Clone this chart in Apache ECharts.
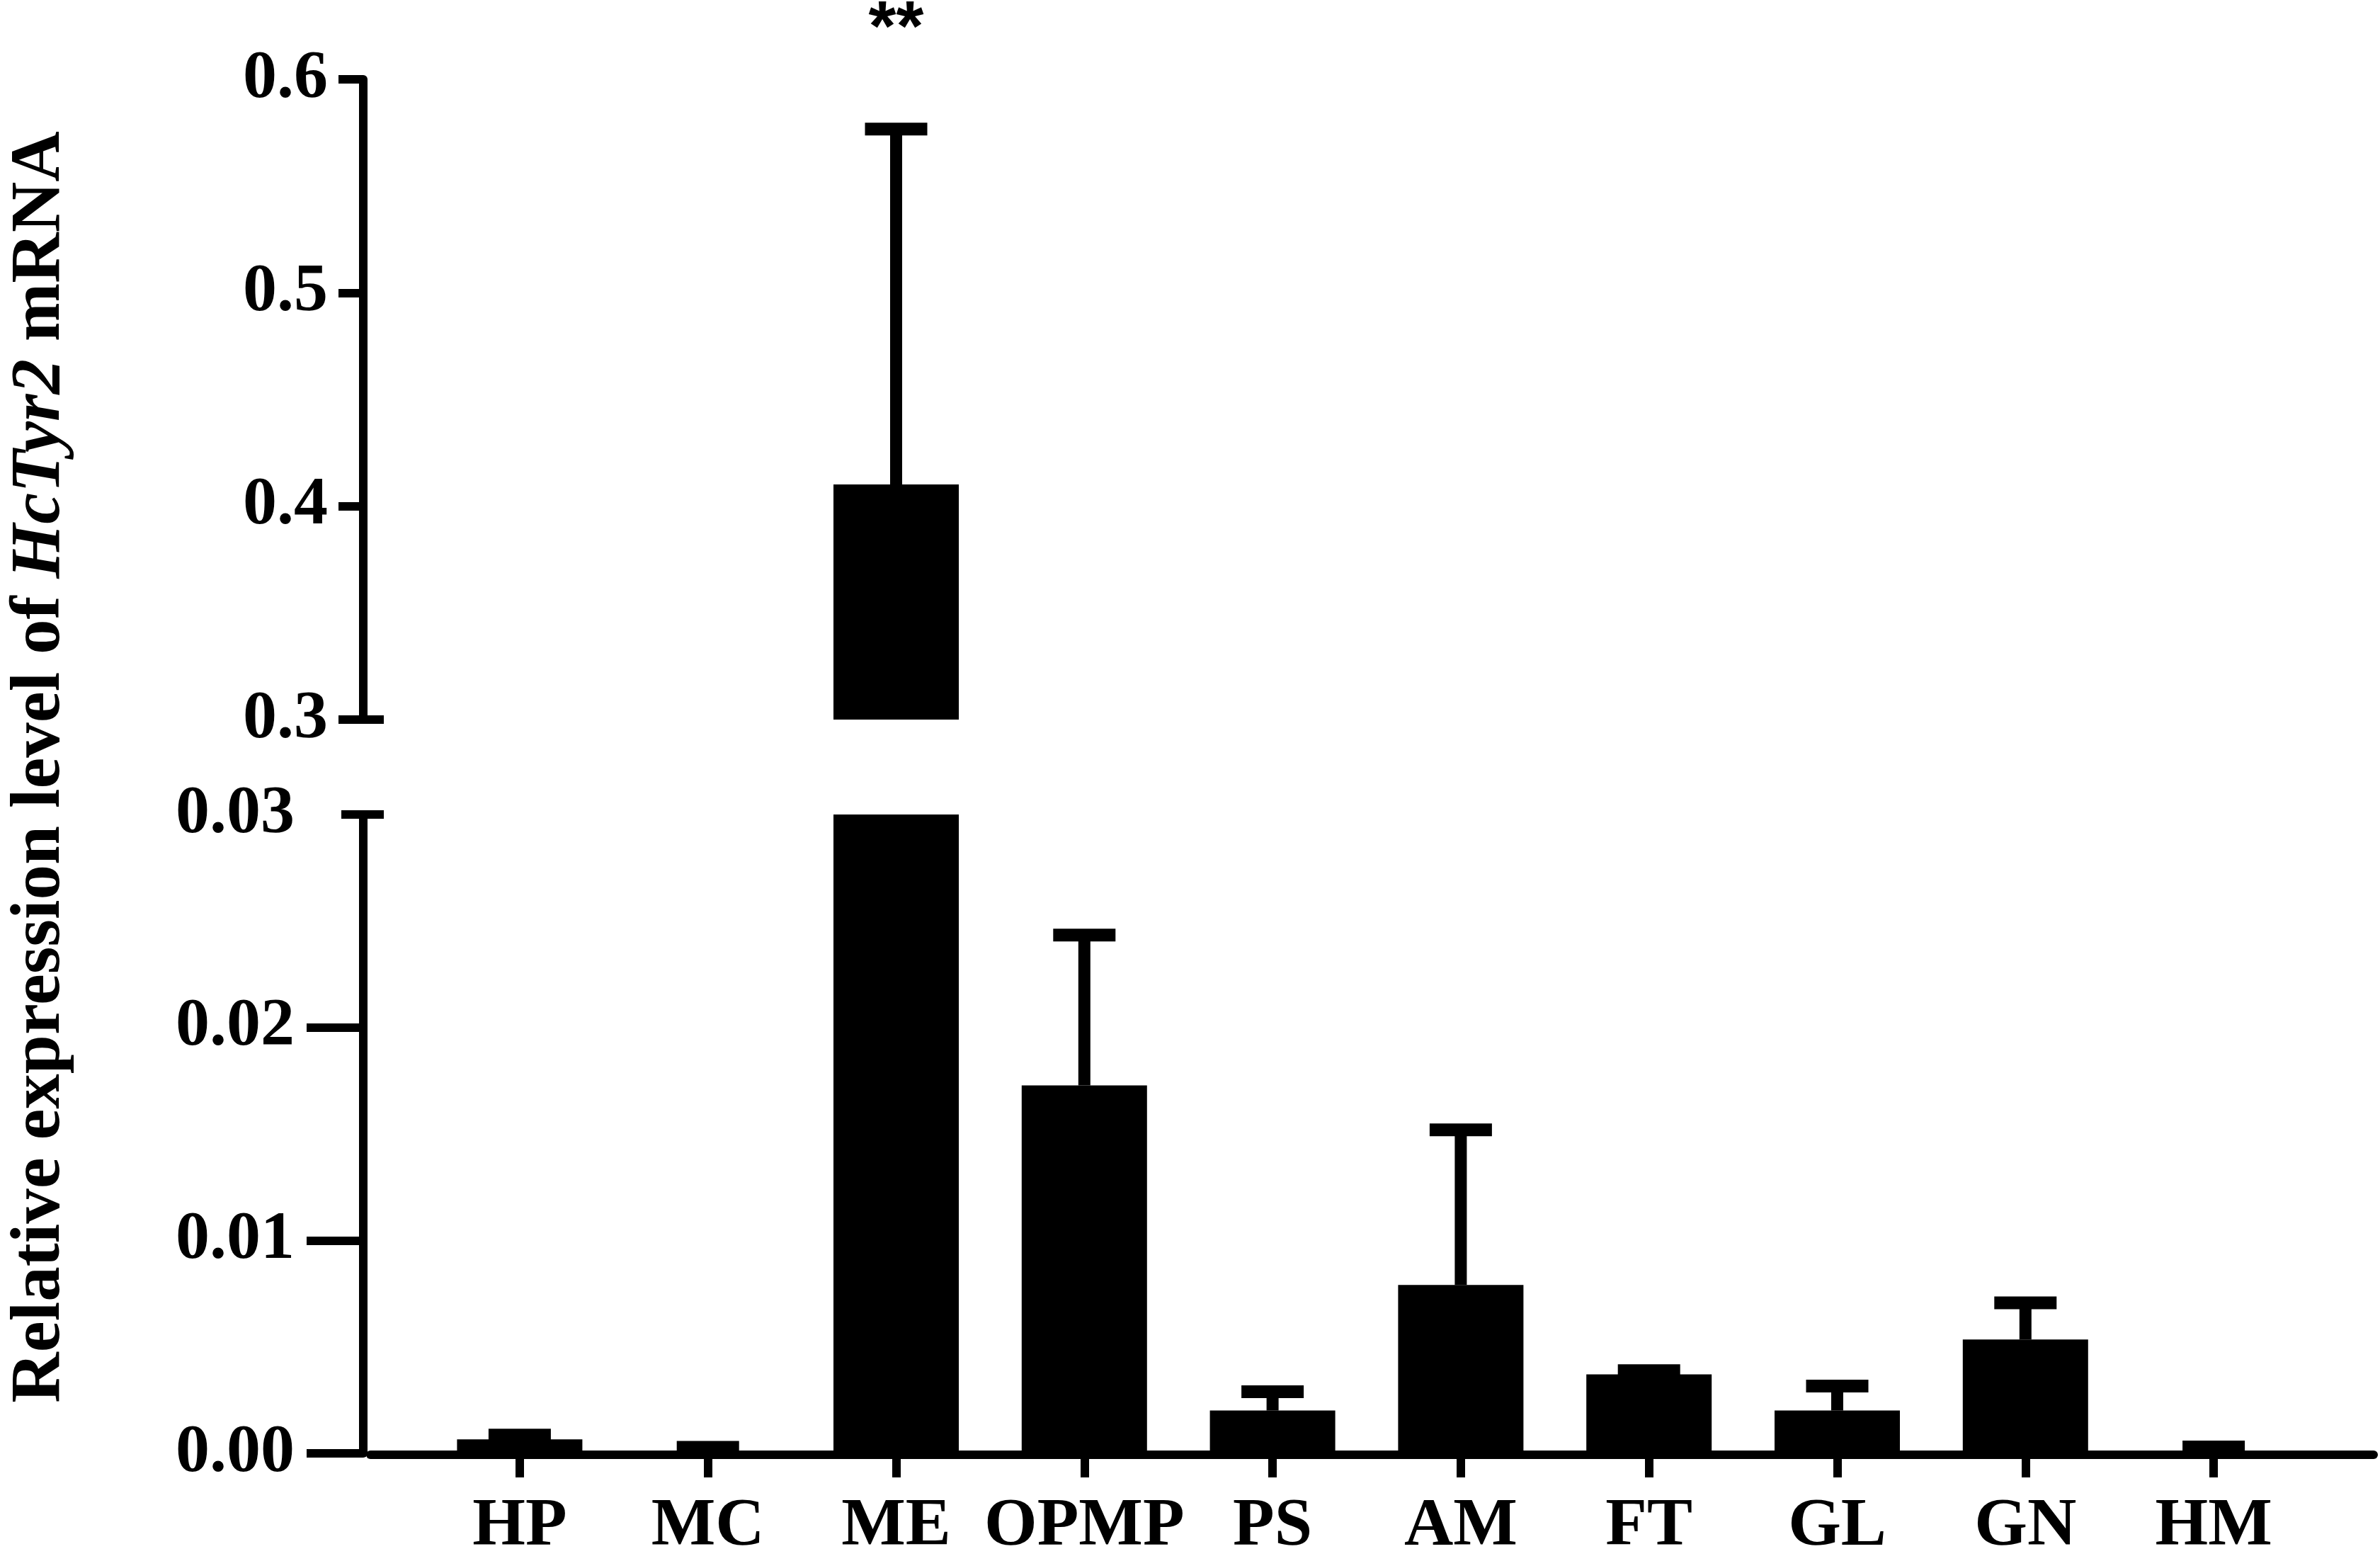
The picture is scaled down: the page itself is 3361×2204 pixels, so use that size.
<!DOCTYPE html>
<html><head><meta charset="utf-8">
<script src="https://cdn.jsdelivr.net/npm/echarts@6/dist/echarts.min.js"></script>
<style>html,body{margin:0;padding:0;background:#fff}#c{width:3361px;height:2204px}</style>
</head><body><div id="c"></div>
<script>
// ---- data ----
const categories = ['HP', 'MC', 'ME', 'OPMP', 'PS', 'AM', 'FT', 'GL', 'GN', 'HM'];
const meanValues = [0.00066, 0.00012, 0.4102, 0.01728, 0.00201, 0.00791, 0.00371, 0.00201, 0.00535, 0.0001];
const sdValues   = [0.0002, 0.00016, 0.1665, 0.00706, 0.00088, 0.00728, 0.00017, 0.00115, 0.00172, 0.0002];
const significance = ['', '', '**', '', '', '', '', '', '', ''];
const lowerTicks = [0, 0.01, 0.02, 0.03];
const upperTicks = [0.3, 0.4, 0.5, 0.6];
const titleParts = ['Relative expression level of ', 'HcTyr2', ' mRNA'];

// ---- styling ----
const SERIF = '"Liberation Serif", "Times New Roman", serif';
const BLACK = '#000';
const labelStyle = { fontFamily: SERIF, fontWeight: 'bold', fontSize: 96, color: BLACK };

const chart = echarts.init(document.getElementById('c'), null, { renderer: 'canvas' });

const errData = meanValues.map((m, i) => [i, m, sdValues[i], significance[i]]);

function renderErr(params, api) {
  const i = api.value(0), m = api.value(1), s = api.value(2);
  const sig = errData[params.dataIndex][3];
  const cs = params.coordSys;
  const yMin = cs.y, yMax = cs.y + cs.height;
  const base = api.coord([i, m]);
  const top = api.coord([i, m + s]);
  const lw = 17, capW = 88, capH = 18;
  const children = [];
  const y1 = Math.max(top[1], yMin), y2 = Math.min(base[1], yMax);
  if (y2 > y1) {
    children.push({ type: 'rect', shape: { x: top[0] - lw / 2, y: y1, width: lw, height: y2 - y1 }, style: { fill: BLACK } });
  }
  if (top[1] >= yMin - 2 && top[1] <= yMax) {
    children.push({ type: 'rect', shape: { x: top[0] - capW / 2, y: top[1] - capH / 2, width: capW, height: capH }, style: { fill: BLACK } });
    if (sig) {
      children.push({ type: 'text', style: { text: sig, x: top[0], y: top[1] - 139, align: 'center', verticalAlign: 'middle',
        fontFamily: '"Liberation Sans", Arial, sans-serif', fontWeight: 'bold', fontSize: 100, fill: BLACK } });
    }
  }
  return { type: 'group', children };
}

const gridLeft = 601, gridW = 2658;

const option = {
  animation: false,
  backgroundColor: '#fff',
  grid: [
    { left: gridLeft, top: 112, width: gridW, height: 904 },
    { left: gridLeft, top: 1150, width: gridW, height: 904 },
    { left: 507, top: 112, width: 2845, height: 1942 }
  ],
  xAxis: [
    { gridIndex: 0, type: 'category', data: categories, axisLine: { show: false }, axisTick: { show: false }, axisLabel: { show: false }, splitLine: { show: false } },
    { gridIndex: 1, type: 'category', data: categories,
      axisLine: { show: false },
      axisTick: { show: true, alignWithLabel: true, length: 34, lineStyle: { width: 12, color: BLACK } },
      axisLabel: Object.assign({ interval: 0, margin: 56 }, labelStyle),
      splitLine: { show: false } },
    { gridIndex: 2, type: 'value', min: 0, max: 1,
      axisLine: { show: true, onZero: false, lineStyle: { width: 12, color: BLACK } },
      axisTick: { show: false }, axisLabel: { show: false }, splitLine: { show: false } }
  ],
  yAxis: [
    { gridIndex: 0, type: 'value', position: 'left', min: upperTicks[0], max: upperTicks[upperTicks.length - 1], interval: 0.1, offset: 88,
      axisLine: { show: true, lineStyle: { width: 12, color: BLACK } },
      axisTick: { show: true, length: 35, lineStyle: { width: 12, color: BLACK } },
      axisLabel: Object.assign({ margin: 50, formatter: v => v.toFixed(1) }, labelStyle),
      splitLine: { show: false } },
    { gridIndex: 0, type: 'value', position: 'left', min: upperTicks[0], max: upperTicks[upperTicks.length - 1], offset: 59,
      axisLine: { show: false },
      axisTick: { show: true, length: 60, customValues: [upperTicks[0]], lineStyle: { width: 12, color: BLACK } },
      axisLabel: { show: false }, splitLine: { show: false } },
    { gridIndex: 1, type: 'value', position: 'left', min: lowerTicks[0], max: lowerTicks[lowerTicks.length - 1], interval: 0.01, offset: 88,
      axisLine: { show: true, lineStyle: { width: 12, color: BLACK } },
      axisTick: { show: true, length: 80, customValues: lowerTicks.slice(0, 3), lineStyle: { width: 12, color: BLACK } },
      axisLabel: Object.assign({ margin: 97, customValues: lowerTicks, formatter: v => v.toFixed(2) }, labelStyle),
      splitLine: { show: false } },
    { gridIndex: 1, type: 'value', position: 'left', min: lowerTicks[0], max: lowerTicks[lowerTicks.length - 1], offset: 59,
      axisLine: { show: false },
      axisTick: { show: true, length: 60, customValues: [lowerTicks[lowerTicks.length - 1]], lineStyle: { width: 12, color: BLACK } },
      axisLabel: { show: false }, splitLine: { show: false } },
    { gridIndex: 2, type: 'value', position: 'left', min: 0, max: 1,
      axisLine: { show: false }, axisTick: { show: false }, axisLabel: { show: false }, splitLine: { show: false },
      name: '{a|' + titleParts[0] + '}{b|' + titleParts[1] + '}{a|' + titleParts[2] + '}',
      nameLocation: 'middle', nameRotate: 90, nameGap: 416,
      nameTextStyle: { rich: {
        a: { fontFamily: SERIF, fontWeight: 'bold', fontSize: 99, color: BLACK },
        b: { fontFamily: SERIF, fontWeight: 'bold', fontStyle: 'italic', fontSize: 99, color: BLACK }
      } } }
  ],
  series: [
    { type: 'bar', xAxisIndex: 0, yAxisIndex: 0, data: meanValues, barWidth: 177, clip: true, itemStyle: { color: BLACK }, z: 2 },
    { type: 'bar', xAxisIndex: 1, yAxisIndex: 2, data: meanValues, barWidth: 177, clip: true, itemStyle: { color: BLACK }, z: 2 },
    { type: 'custom', xAxisIndex: 0, yAxisIndex: 0, data: errData, renderItem: renderErr, z: 3, clip: false },
    { type: 'custom', xAxisIndex: 1, yAxisIndex: 2, data: errData, renderItem: renderErr, z: 3, clip: false }
  ]
};
chart.setOption(option);
</script>
</body></html>
